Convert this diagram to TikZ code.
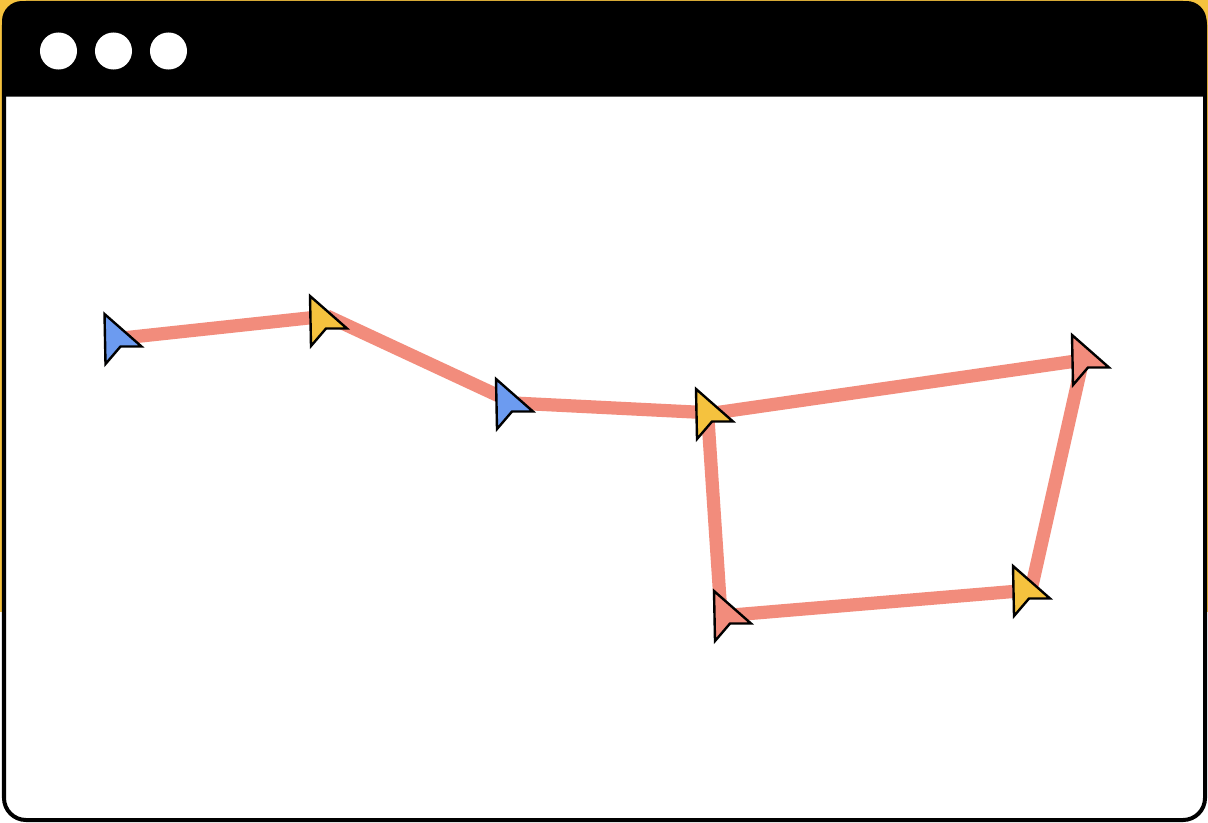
\documentclass[tikz,border=0pt]{standalone}
\usepackage{xcolor}
\usepackage{tikz}
\definecolor{myyellow}{RGB}{245,194,62}
\definecolor{mysalmon}{RGB}{242,140,124}
\definecolor{myblue}{RGB}{108,155,240}
\tikzset{
  winframe/.style={draw=black, fill=white, line width=0.1cm, rounded corners=0.55cm},
  windot/.style={circle, fill=white, inner sep=0pt, minimum size=0.925cm},
  link/.style={draw=mysalmon, line width=0.33cm},
  pointer/.style={draw=black, line width=0.06cm, line join=miter},
  pics/cursor/.style={
    code={
      \draw[pointer, fill=#1] (-18,-24) -- (19,8.5) -- (-2,8.5) -- (-17,26) -- cycle;
    }
  }
}
\begin{document}
\begin{tikzpicture}[x=0.025cm, y=-0.025cm]
  \useasboundingbox (0,0) rectangle (1208,822);
  \fill[myyellow] (0,0) rectangle (1208,612);
  \fill[white] (0,612) rectangle (1208,822);

  \draw[winframe] (4,3) rectangle (1205,820);
  \fill[black] (2,96.5) [rounded corners=0.5cm] -- (2,1) -- (1206.5,1) [sharp corners] -- (1206.5,96.5) -- cycle;

  \node[windot] (dotone) at (58.5,51) {};
  \node[windot] (dottwo) at (113.5,51) {};
  \node[windot] (dotthree) at (168.5,51) {};

  \coordinate (starta) at (122.5,338);
  \coordinate (startb) at (328,320);
  \coordinate (startc) at (514,403);
  \coordinate (hub) at (714,413);
  \coordinate (cornera) at (1090,359);
  \coordinate (cornerb) at (1031,590);
  \coordinate (cornerc) at (732,615);
  \coordinate (joinb) at (327,316);
  \coordinate (hubdrop) at (707.5,412);
  \coordinate (droptop) at (721,615);
  \coordinate (sidetop) at (1083,359);

  \draw[link] (starta) -- (joinb);
  \draw[link] (joinb) -- (startc);
  \draw[link] (startc) -- (hub);
  \draw[link] (hub) -- (cornera);
  \draw[link] (sidetop) -- (cornerb);
  \draw[link] (cornerb) -- (cornerc);
  \draw[link] (droptop) -- (hubdrop);

  \pic at (starta) {cursor=myblue};
  \pic at (startb) {cursor=myyellow};
  \pic at (startc) {cursor=myblue};
  \pic at (hub) {cursor=myyellow};
  \pic at (cornera) {cursor=mysalmon};
  \pic at (cornerb) {cursor=myyellow};
  \pic at (cornerc) {cursor=mysalmon};
\end{tikzpicture}
\end{document}
